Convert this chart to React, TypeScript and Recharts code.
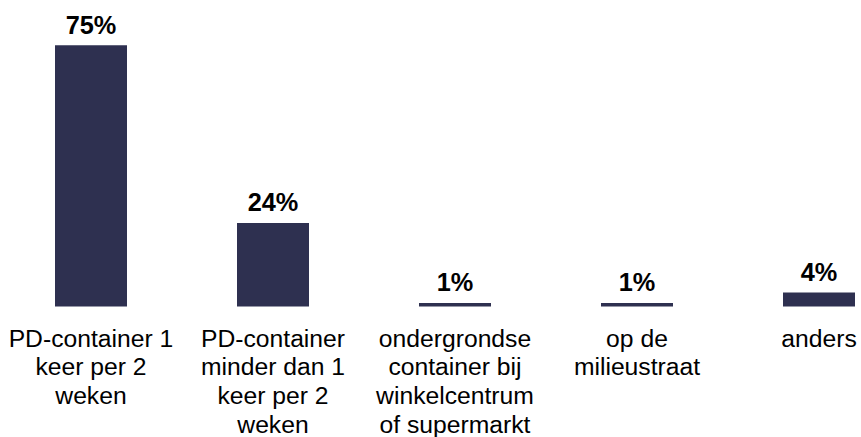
import React from "react";
import { BarChart, Bar, XAxis, YAxis, LabelList } from "recharts";

const categories = [
    "PD-container 1 keer per 2 weken",
    "PD-container minder dan 1 keer per 2 weken",
    "ondergrondse container bij winkelcentrum of supermarkt",
    "op de milieustraat",
    "anders",
];

// how the category names are broken over lines under the bars
const tickLines = [
    ["PD-container 1", "keer per 2", "weken"],
    ["PD-container", "minder dan 1", "keer per 2", "weken"],
    ["ondergrondse", "container bij", "winkelcentrum", "of supermarkt"],
    ["op de", "milieustraat"],
    ["anders"],
];

const percentages = [75, 24, 1, 1, 4];

const data = categories.map((name, i) => ({
    name,
    lines: tickLines[i],
    value: percentages[i],
}));

const FONT = "'Liberation Sans', Arial, Helvetica, sans-serif";
const BAR_COLOR = "#2e3050";

const CategoryTick = (props: any) => {
    const { x, y, index } = props;
    const lines: string[] = tickLines[index] || [];
    return (
        <text
            x={x}
            y={y + 40}
            textAnchor="middle"
            fill="#000"
            fontFamily={FONT}
            fontSize={24.7}
        >
            {lines.map((line, i) => (
                <tspan key={i} x={x} dy={i === 0 ? 0 : 28.7}>
                    {line}
                </tspan>
            ))}
        </text>
    );
};

const ValueLabel = (props: any) => {
    const { x, y, width, value } = props;
    return (
        <text
            x={x + width / 2}
            y={y - 11.7}
            textAnchor="middle"
            fill="#000"
            fontFamily={FONT}
            fontWeight="bold"
            fontSize={25.3}
        >
            {value}%
        </text>
    );
};

const App: React.FC = () => {
    return (
        <div
            style={{
                position: "absolute",
                top: 0,
                left: 0,
                width: 861,
                height: 437,
                overflow: "hidden",
                background: "#fff",
            }}
        >
            <BarChart
                width={910}
                height={437}
                data={data}
                margin={{ top: 45.3, right: 0, left: 0, bottom: 0 }}
                barCategoryGap={0}
            >
                <XAxis
                    dataKey="name"
                    axisLine={false}
                    tickLine={false}
                    tickSize={0}
                    tickMargin={0}
                    height={130.5}
                    interval={0}
                    tick={<CategoryTick />}
                />
                <YAxis hide domain={[0, 75]} />
                <Bar dataKey="value" fill={BAR_COLOR} barSize={72} isAnimationActive={false}>
                    <LabelList dataKey="value" content={<ValueLabel />} />
                </Bar>
            </BarChart>
        </div>
    );
};

export default App;
